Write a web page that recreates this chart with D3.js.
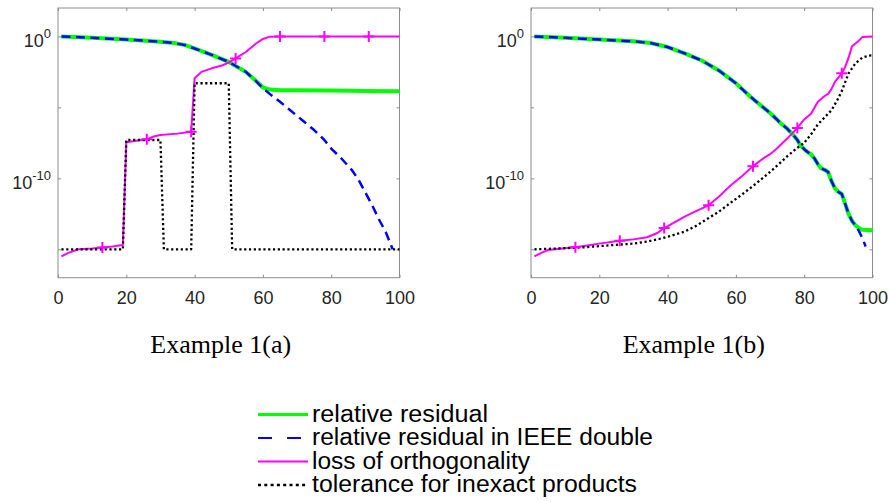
<!DOCTYPE html>
<html>
<head>
<meta charset="utf-8">
<script src="https://cdn.jsdelivr.net/npm/d3@7"></script>
<style>
  body { margin: 0; background: #fff; }
  svg { display: block; }
</style>
</head>
<body>
<div id="chart"></div>
<script>
// values are log10 of the quantity
// Example 1(a)
const resA_it = [1, 10, 20, 30, 34, 37, 40, 45, 50, 55, 58, 60, 62, 65, 70, 80, 90, 100];
const resA_lg = [0, -0.1, -0.22, -0.38, -0.47, -0.6, -0.85, -1.3, -1.8, -2.5, -3.15, -3.6, -3.75, -3.8, -3.8, -3.82, -3.84, -3.86];
const dblA_it = [1, 10, 20, 30, 34, 37, 40, 45, 50, 55, 58, 60, 62, 65, 68, 72, 75, 78, 80, 83, 86, 88, 90, 92, 94, 96, 98];
const dblA_lg = [0, -0.1, -0.22, -0.38, -0.47, -0.6, -0.85, -1.3, -1.8, -2.5, -3.15, -3.65, -4.05, -4.6, -5.2, -6.0, -6.6, -7.3, -7.9, -8.6, -9.4, -10.1, -11.0, -11.9, -12.9, -13.8, -15.0];
const orthA_it = [1, 3, 6, 10, 13, 16, 19, 20, 23, 26, 28, 30, 35, 39, 40, 42, 45, 48, 50, 52, 55, 58, 60, 62, 65, 78, 91, 100];
const orthA_lg = [-15.5, -15.25, -15.0, -14.95, -14.88, -14.8, -14.7, -7.45, -7.35, -7.25, -7.05, -6.95, -6.85, -6.72, -2.95, -2.5, -2.25, -2.05, -1.85, -1.55, -1.1, -0.5, -0.18, -0.02, 0, 0, 0, 0];
const tolA_it = [1, 19, 20, 30, 31, 39, 40, 50, 51, 100];
const tolA_lg = [-15, -15, -7.3, -7.3, -15, -15, -3.3, -3.3, -15, -15];

// Example 1(b)
const resB_it = [1, 10, 20, 30, 35, 40, 45, 50, 55, 60, 62, 64, 66, 68, 70, 72, 73, 74, 75, 76, 77, 78, 79, 80, 81, 82, 83, 84, 85, 86, 87, 88, 89, 90, 91, 92, 93, 94, 95, 96, 97, 100];
const resB_lg = [0, -0.1, -0.22, -0.35, -0.47, -0.75, -1.2, -1.7, -2.4, -3.3, -3.75, -4.2, -4.6, -5.0, -5.4, -5.85, -6.1, -6.3, -6.5, -6.75, -7.0, -7.3, -7.7, -7.95, -8.15, -8.3, -8.6, -9.0, -9.3, -9.4, -9.55, -10.2, -10.7, -10.95, -11.1, -11.8, -12.5, -13.0, -13.3, -13.5, -13.62, -13.65];
const dblB_it = [1, 10, 20, 30, 35, 40, 45, 50, 55, 60, 62, 64, 66, 68, 70, 72, 73, 74, 75, 76, 77, 78, 79, 80, 81, 82, 83, 84, 85, 86, 87, 88, 89, 90, 91, 92, 93, 94, 95, 96, 97, 98];
const dblB_lg = [0, -0.1, -0.22, -0.35, -0.47, -0.75, -1.2, -1.7, -2.4, -3.3, -3.75, -4.2, -4.6, -5.0, -5.4, -5.85, -6.1, -6.3, -6.5, -6.75, -7.0, -7.3, -7.7, -7.95, -8.15, -8.3, -8.6, -9.0, -9.3, -9.4, -9.55, -10.2, -10.7, -10.95, -11.1, -11.8, -12.5, -13.0, -13.3, -13.7, -14.2, -14.8];
const orthB_it = [1, 3, 5, 9, 13, 16, 20, 26, 30, 34, 37, 39, 42, 45, 48, 52, 55, 58, 62, 65, 68, 70, 72, 75, 78, 80, 82, 84, 86, 87, 88, 89, 91, 92, 93, 94, 95, 96, 97, 100];
const orthB_lg = [-15.5, -15.25, -15.05, -14.95, -14.85, -14.75, -14.6, -14.4, -14.3, -14.15, -13.85, -13.5, -13.1, -12.7, -12.35, -11.9, -11.3, -10.6, -9.8, -9.14, -8.6, -8.3, -7.9, -7.2, -6.45, -5.85, -5.45, -4.6, -4.2, -4.05, -3.7, -3.2, -2.6, -2.15, -1.5, -0.7, -0.5, -0.3, -0.05, 0];
const tolB_it = [1, 9, 16, 24, 30, 34, 37, 41, 45, 48, 51, 55, 58, 62, 66, 70, 73, 75, 78, 80, 82, 84, 86, 88, 90, 91, 93, 95, 96, 97, 99, 100];
const tolB_lg = [-15, -14.93, -14.85, -14.7, -14.6, -14.45, -14.3, -14.05, -13.75, -13.4, -12.95, -12.35, -11.8, -11.1, -10.35, -9.55, -8.9, -8.45, -7.85, -7.5, -6.9, -6.2, -5.7, -5.2, -4.35, -3.85, -2.6, -1.9, -1.7, -1.5, -1.35, -1.33];

const markIters = [13, 26, 39, 52, 65, 78, 91];
const xTicks = [0, 20, 40, 60, 80, 100];
const yTickExp = [0, -5, -10, -15];
const yLabelExp = [0, -10];
const titles = ["Example 1(a)", "Example 1(b)"];
const legendLabels = [
  "relative residual",
  "relative residual in IEEE double",
  "loss of orthogonality",
  "tolerance for inexact products"
];

const zip = (it, lg) => it.map((d, i) => [d, lg[i]]);

const styles = [
  { color: "#00ff00", width: 4, dash: null, legDash: null },
  { color: "#0000ff", width: 2.5, dash: "9,5.5", legDash: "14,15" },
  { color: "#ff00ff", width: 2, dash: null, legDash: null },
  { color: "#000000", width: 2.3, dash: "2.2,2.6", legDash: "3,3.3" }
];

const panels = [
  { left: 58, title: titles[0], series: [zip(resA_it, resA_lg), zip(dblA_it, dblA_lg), zip(orthA_it, orthA_lg), zip(tolA_it, tolA_lg)] },
  { left: 531, title: titles[1], series: [zip(resB_it, resB_lg), zip(dblB_it, dblB_lg), zip(orthB_it, orthB_lg), zip(tolB_it, tolB_lg)] }
];

const W = 891, H = 502;
const plotTop = 8, plotBottom = 277.7, plotW = 341.5;
const axisGray = "#8c8c8c";
const tickFont = "'Liberation Sans', Arial, sans-serif";

const svg = d3.select("#chart").append("svg")
  .attr("width", W)
  .attr("height", H);

panels.forEach(p => {
  const x = d3.scaleLinear().domain([0, 100]).range([p.left, p.left + plotW]);
  const y = d3.scaleLog().domain([1e-17, 1e2]).range([plotBottom, plotTop]);

  const g = svg.append("g");

  // box
  g.append("rect")
    .attr("x", p.left).attr("y", plotTop)
    .attr("width", plotW).attr("height", plotBottom - plotTop)
    .attr("fill", "none").attr("stroke", axisGray).attr("stroke-width", 1);

  // ticks on all four sides, pointing in
  const yVals = yTickExp.map(e => Math.pow(10, e));
  const axes = [
    [d3.axisBottom(x).tickValues(xTicks).tickFormat(d3.format("d")), plotBottom, 0],
    [d3.axisTop(x).tickValues(xTicks).tickFormat(""), plotTop, 0],
    [d3.axisLeft(y).tickValues(yVals).tickFormat(""), 0, p.left],
    [d3.axisRight(y).tickValues(yVals).tickFormat(""), 0, p.left + plotW]
  ];
  axes.forEach(([ax, ty, tx]) => {
    const a = g.append("g")
      .attr("transform", `translate(${tx},${ty})`)
      .call(ax.tickSize(-3).tickSizeOuter(0).tickPadding(13.5));
    a.select(".domain").remove();
    a.selectAll(".tick line").attr("stroke", axisGray);
    a.selectAll(".tick text")
      .attr("fill", "#262626")
      .style("font-family", tickFont)
      .style("font-size", "18px");
  });

  // y labels 10^e
  yLabelExp.forEach(e => {
    const t = g.append("text")
      .attr("x", p.left - 7)
      .attr("y", y(Math.pow(10, e)) + 10.5)
      .attr("text-anchor", "end")
      .attr("fill", "#262626")
      .style("font-family", tickFont)
      .style("font-size", "18px");
    t.append("tspan").text("10");
    t.append("tspan").attr("dy", -8.5).style("font-size", "13px").text(String(e));
  });

  // lines
  const line = d3.line()
    .x(d => x(d[0]))
    .y(d => y(Math.pow(10, d[1])));

  p.series.forEach((s, i) => {
    const st = styles[i];
    g.append("path")
      .attr("d", line(s))
      .attr("fill", "none")
      .attr("stroke", st.color)
      .attr("stroke-width", st.width)
      .attr("stroke-dasharray", st.dash)
      .attr("stroke-linejoin", "round");
  });

  // + markers on loss of orthogonality
  const orth = p.series[2];
  markIters.forEach(m => {
    const d = orth.find(q => q[0] === m);
    if (!d) return;
    const cx = x(d[0]), cy = y(Math.pow(10, d[1]));
    g.append("path")
      .attr("d", `M${cx - 5.5},${cy}H${cx + 5.5}M${cx},${cy - 5.5}V${cy + 5.5}`)
      .attr("stroke", styles[2].color)
      .attr("stroke-width", 2)
      .attr("fill", "none");
  });

  // title
  g.append("text")
    .attr("x", p.left + plotW / 2 - 8)
    .attr("y", 353)
    .attr("text-anchor", "middle")
    .style("font-family", "'Liberation Serif', 'Times New Roman', serif")
    .style("font-size", "26px")
    .attr("fill", "#000")
    .text(p.title);
});

// legend
const legX0 = 258, legX1 = 308, legTextX = 312;
const legBase = [421.5, 445, 468.5, 492];
const legWidths = [176, 341, 218, 325];
const leg = svg.append("g");
legendLabels.forEach((lab, i) => {
  const st = styles[i];
  leg.append("line")
    .attr("x1", legX0).attr("x2", legX1)
    .attr("y1", legBase[i] - 7).attr("y2", legBase[i] - 7)
    .attr("stroke", st.color)
    .attr("stroke-width", i === 0 ? 3 : (i === 3 ? 2.5 : 2.2))
    .attr("stroke-dasharray", st.legDash);
  leg.append("text")
    .attr("x", legTextX)
    .attr("y", legBase[i])
    .attr("fill", "#000")
    .attr("textLength", legWidths[i])
    .attr("lengthAdjust", "spacingAndGlyphs")
    .style("font-family", tickFont)
    .style("font-size", "23px")
    .text(lab);
});
</script>
</body>
</html>
